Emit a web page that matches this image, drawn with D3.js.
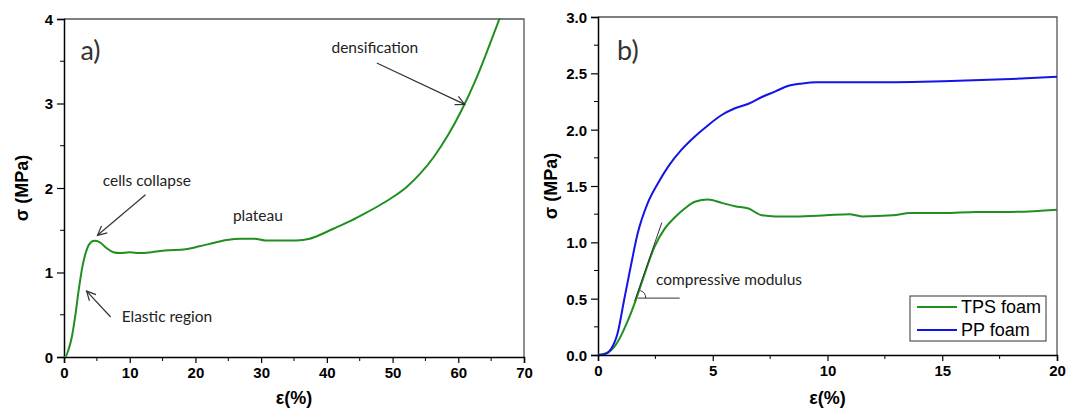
<!DOCTYPE html>
<html><head><meta charset="utf-8">
<script src="https://cdn.jsdelivr.net/npm/d3@7"></script>
<style>
body{margin:0;background:#fff;}
svg{display:block;}
.tick text{font-family:"Liberation Sans",Arial,sans-serif;font-weight:bold;font-size:15px;fill:#000;}
.ann{font-family:Lato,"Open Sans",sans-serif;font-size:15.5px;fill:#222;}
.ttl{font-family:"Liberation Sans",Arial,sans-serif;font-weight:bold;font-size:18px;fill:#000;}
</style></head>
<body>
<script>
// ---- data: panel a) ----
const strainA = [0,0.16,0.7,1.2,1.7,2.25,2.8,3.3,3.8,4.6,5.4,6.45,7.5,8.5,10,11.5,13.3,15.4,18.5,20.6,22.7,24.8,26.9,29,30.6,33.2,35.3,37.4,39.5,41.6,43.7,45.8,47.9,50,52.1,54.2,56.3,58.4,60.5,62.6,64.6,66.5];
const stressA = [0,0,0.09,0.24,0.48,0.8,1.07,1.23,1.33,1.375,1.36,1.29,1.24,1.23,1.24,1.23,1.24,1.26,1.275,1.31,1.35,1.385,1.40,1.40,1.38,1.38,1.38,1.40,1.465,1.54,1.615,1.70,1.79,1.89,2.01,2.17,2.37,2.62,2.92,3.27,3.66,4.05];
const xTicksA = [0,10,20,30,40,50,60,70];
const yTicksA = [0,1,2,3,4];
// ---- data: panel b) ----
const strainPP = [0,0.34,0.56,0.85,1.14,1.43,1.73,2.17,2.6,3.05,3.63,4.22,4.8,5.39,5.97,6.56,7.14,7.73,8.3,8.9,9.5,12.1,15.05,18,20];
const stressPP = [0,0.01,0.05,0.19,0.49,0.79,1.08,1.35,1.52,1.67,1.82,1.94,2.04,2.13,2.19,2.23,2.29,2.34,2.39,2.41,2.42,2.42,2.43,2.45,2.47];
const strainTPS = [0,0.41,0.7,1.0,1.29,1.65,2.0,2.46,2.9,3.34,3.78,4.22,4.8,5.39,5.97,6.56,7.14,7.73,8.6,9.93,10.95,11.5,12.85,13.6,15.05,16.5,17.96,20];
const stressTPS = [0,0.02,0.07,0.17,0.30,0.49,0.70,0.96,1.12,1.22,1.30,1.36,1.38,1.35,1.32,1.30,1.24,1.23,1.23,1.24,1.25,1.23,1.24,1.26,1.26,1.27,1.27,1.29];
const xTicksB = [0,5,10,15,20];
const yTicksB = [0,0.5,1.0,1.5,2.0,2.5,3.0];
const seriesNames = ["TPS foam","PP foam"];
const tangentX = [1.6,2.78];
const tangentY = [0.48,1.175];

const W=1067,H=411;
const GREEN="#1f8f1f", BLUE="#1414e6";
const svg=d3.select("body").append("svg").attr("width",W).attr("height",H);
const defs=svg.append("defs");
defs.append("marker").attr("id","arr").attr("viewBox","-10 -6 12 12").attr("refX",0).attr("refY",0)
  .attr("markerWidth",12).attr("markerHeight",12).attr("markerUnits","userSpaceOnUse").attr("orient","auto")
  .append("path").attr("d","M-9,-4.5 L0,0 L-9,4.5").attr("fill","none").attr("stroke","#333").attr("stroke-width",1.2);

function panel(o){
  const x=d3.scaleLinear().domain(o.xd).range([o.l,o.r]);
  const y=d3.scaleLinear().domain(o.yd).range([o.b,o.t]);
  const g=svg.append("g");
  g.append("path").attr("d",`M${o.l},${o.t}H${o.r}V${o.b}`).attr("fill","none").attr("stroke","#555").attr("stroke-width",1.3);
  const minorX=d3.range(o.xd[0],o.xd[1]+1e-9,o.xminor).filter(v=>!o.xt.some(t=>Math.abs(t-v)<1e-9));
  const minorY=d3.range(o.yd[0],o.yd[1]+1e-9,o.yminor).filter(v=>!o.yt.some(t=>Math.abs(t-v)<1e-9));
  g.append("g").selectAll("line").data(minorX).join("line").attr("x1",d=>x(d)).attr("x2",d=>x(d)).attr("y1",o.b).attr("y2",o.b+4).attr("stroke","#000");
  g.append("g").selectAll("line").data(minorY).join("line").attr("y1",d=>y(d)).attr("y2",d=>y(d)).attr("x1",o.l).attr("x2",o.l-4).attr("stroke","#000");
  const xa=g.append("g").attr("transform",`translate(0,${o.b})`).call(d3.axisBottom(x).tickValues(o.xt).tickFormat(o.xf).tickSizeOuter(0).tickSize(6).tickPadding(4));
  const ya=g.append("g").attr("transform",`translate(${o.l},0)`).call(d3.axisLeft(y).tickValues(o.yt).tickFormat(o.yf).tickSizeOuter(0).tickSize(7).tickPadding(4));
  [xa,ya].forEach(a=>{a.select(".domain").attr("stroke","#000").attr("stroke-width",1.5);a.selectAll(".tick line").attr("stroke","#000").attr("stroke-width",1.2);});
  ya.selectAll(".tick text").attr("dy","0.36em");
  g.append("text").attr("class","ttl").attr("x",(o.l+o.r)/2).attr("y",404).attr("text-anchor","middle").text("ε(%)");
  g.append("text").attr("class","ttl").attr("transform",`translate(${o.ytx},${(o.t+o.b)/2}) rotate(-90)`).attr("text-anchor","middle").attr("dy","0.35em").text("σ (MPa)");
  const clip="c"+o.id;
  defs.append("clipPath").attr("id",clip).append("rect").attr("x",o.l).attr("y",o.t-1).attr("width",o.r-o.l+1).attr("height",o.b-o.t+1);
  const body=g.append("g").attr("clip-path",`url(#${clip})`);
  return {x,y,g,body};
}

function line(p,xs,ys,color){
  const l=d3.line().x(d=>p.x(d[0])).y(d=>p.y(d[1])).curve(d3.curveMonotoneX);
  p.body.append("path").attr("d",l(xs.map((v,i)=>[v,ys[i]]))).attr("fill","none").attr("stroke",color).attr("stroke-width",2);
}

// panel a
const A=panel({id:"a",l:64,r:524,t:19,b:357,xd:[0,70],yd:[0,4],xt:xTicksA,yt:yTicksA,xminor:5,yminor:0.5,xf:d3.format("d"),yf:d3.format("d"),ytx:22});
line(A,strainA,stressA,GREEN);
A.g.append("text").attr("x",A.x(2.5)).attr("y",A.y(3.51)).attr("font-family","Lato,'Open Sans',sans-serif").attr("font-size",27).attr("fill","#333").text("a)");
function ann(p,t,xv,yv){p.g.append("text").attr("class","ann").attr("x",p.x(xv)).attr("y",p.y(yv)).attr("dy","0.35em").text(t);}
function arrow(p,x1,y1,x2,y2){p.g.append("line").attr("x1",p.x(x1)).attr("y1",p.y(y1)).attr("x2",p.x(x2)).attr("y2",p.y(y2)).attr("stroke","#333").attr("stroke-width",1.2).attr("marker-end","url(#arr)");}
ann(A,"densification",40.7,3.66);
arrow(A,47.6,3.48,60.97,2.99);
ann(A,"cells collapse",5.9,2.09);
arrow(A,12.4,1.92,5.1,1.44);
ann(A,"plateau",25.7,1.67);
ann(A,"Elastic region",8.77,0.473);
arrow(A,7.1,0.473,3.44,0.78);

// panel b
const B=panel({id:"b",l:598,r:1057,t:17,b:355,xd:[0,20],yd:[0,3],xt:xTicksB,yt:yTicksB,xminor:2.5,yminor:0.25,xf:d3.format("d"),yf:d3.format(".1f"),ytx:551});
line(B,strainTPS,stressTPS,GREEN);
line(B,strainPP,stressPP,BLUE);
B.g.append("text").attr("x",B.x(0.83)).attr("y",B.y(2.62)).attr("font-family","Lato,'Open Sans',sans-serif").attr("font-size",27).attr("fill","#333").text("b)");
B.g.append("line").attr("x1",B.x(tangentX[0])).attr("y1",B.y(tangentY[0])).attr("x2",B.x(tangentX[1])).attr("y2",B.y(tangentY[1])).attr("stroke","#333").attr("stroke-width",1);
const ox=B.x(1.73), oy=B.y(0.505);
B.g.append("line").attr("x1",ox).attr("y1",oy).attr("x2",B.x(3.56)).attr("y2",oy).attr("stroke","#333").attr("stroke-width",1);
const ang=Math.atan2(B.y(tangentY[0])-B.y(tangentY[1]),B.x(tangentX[1])-B.x(tangentX[0]));
const rr=8;
B.g.append("path").attr("d",`M${ox+rr},${oy} A${rr},${rr} 0 0 0 ${ox+rr*Math.cos(ang)},${oy-rr*Math.sin(ang)}`).attr("fill","none").attr("stroke","#333").attr("stroke-width",1);
ann(B,"compressive modulus",2.53,0.666);
// legend
const lg=B.g.append("g").attr("transform","translate(910,296)");
lg.append("rect").attr("width",136).attr("height",45).attr("fill","#fff").attr("stroke","#333").attr("stroke-width",1);
[GREEN,BLUE].forEach((c,i)=>{
  const yy=11+i*23;
  lg.append("line").attr("x1",7).attr("x2",47).attr("y1",yy).attr("y2",yy).attr("stroke",c).attr("stroke-width",2);
  lg.append("text").attr("x",51).attr("y",yy).attr("dy","0.36em").attr("font-family","'Liberation Sans',Arial,sans-serif").attr("font-size",18).attr("fill","#000").text(seriesNames[i]);
});
</script>
</body></html>
